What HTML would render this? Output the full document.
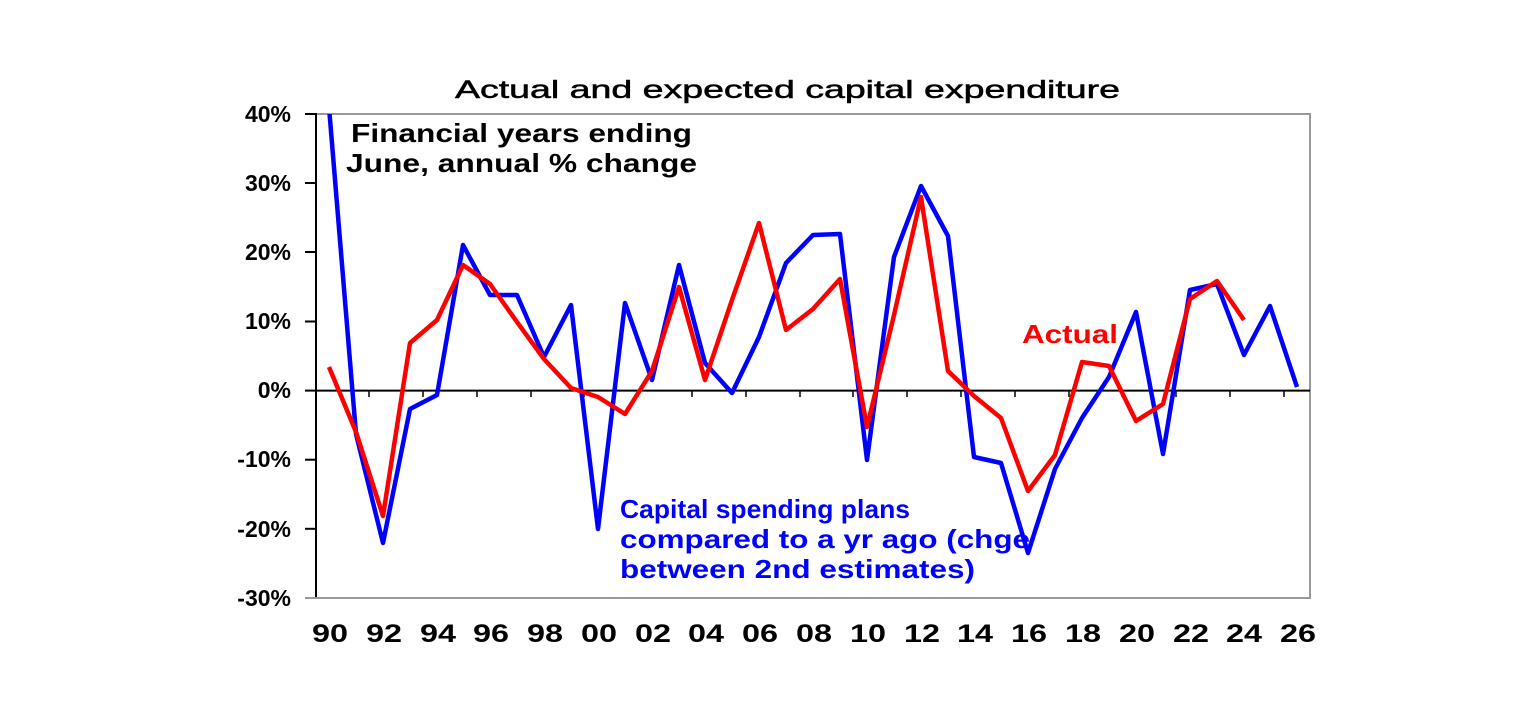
<!DOCTYPE html>
<html><head><meta charset="utf-8"><style>body{margin:0;background:#fff}svg{display:block}</style></head>
<body>
<svg width="1536" height="727" viewBox="0 0 1536 727" font-family="Liberation Sans, Arial, sans-serif">
<rect width="1536" height="727" fill="#fff"/>
<text x="455" y="98" font-size="25" textLength="665" lengthAdjust="spacingAndGlyphs" fill="#000" stroke="#000" stroke-width="0.5">Actual and expected capital expenditure</text>
<rect x="316" y="114" width="994" height="484" fill="none" stroke="#999" stroke-width="2"/>
<g stroke="#000" stroke-width="2">
<line x1="316" y1="113" x2="316" y2="599"/>
<line x1="316" y1="390.6" x2="1310" y2="390.6"/>
<line x1="305" y1="114" x2="316" y2="114"/><line x1="305" y1="183" x2="316" y2="183"/><line x1="305" y1="252" x2="316" y2="252"/><line x1="305" y1="321.5" x2="316" y2="321.5"/><line x1="305" y1="390.6" x2="316" y2="390.6"/><line x1="305" y1="459.7" x2="316" y2="459.7"/><line x1="305" y1="528.8" x2="316" y2="528.8"/><line x1="305" y1="598" x2="316" y2="598"/>
<line x1="305" y1="598" x2="1310" y2="598" stroke="#999"/>
</g>
<g stroke="#000" stroke-width="1.5">
<line x1="369" y1="390" x2="369" y2="397"/><line x1="423" y1="390" x2="423" y2="397"/><line x1="477" y1="390" x2="477" y2="397"/><line x1="531" y1="390" x2="531" y2="397"/><line x1="584" y1="390" x2="584" y2="397"/><line x1="638" y1="390" x2="638" y2="397"/><line x1="692" y1="390" x2="692" y2="397"/><line x1="746" y1="390" x2="746" y2="397"/><line x1="800" y1="390" x2="800" y2="397"/><line x1="853" y1="390" x2="853" y2="397"/><line x1="907" y1="390" x2="907" y2="397"/><line x1="961" y1="390" x2="961" y2="397"/><line x1="1015" y1="390" x2="1015" y2="397"/><line x1="1069" y1="390" x2="1069" y2="397"/><line x1="1122" y1="390" x2="1122" y2="397"/><line x1="1176" y1="390" x2="1176" y2="397"/><line x1="1230" y1="390" x2="1230" y2="397"/><line x1="1284" y1="390" x2="1284" y2="397"/>
</g>
<g font-size="23" font-weight="bold" text-anchor="end" fill="#000">
<text x="291" y="122">40%</text><text x="291" y="191">30%</text><text x="291" y="260">20%</text><text x="291" y="329">10%</text><text x="291" y="398">0%</text><text x="291" y="467">-10%</text><text x="291" y="537">-20%</text><text x="291" y="606">-30%</text>
</g>
<g font-size="25" font-weight="bold" text-anchor="middle" fill="#000">
<text x="330" y="642" textLength="36" lengthAdjust="spacingAndGlyphs">90</text><text x="384" y="642" textLength="36" lengthAdjust="spacingAndGlyphs">92</text><text x="438" y="642" textLength="36" lengthAdjust="spacingAndGlyphs">94</text><text x="491" y="642" textLength="36" lengthAdjust="spacingAndGlyphs">96</text><text x="545" y="642" textLength="36" lengthAdjust="spacingAndGlyphs">98</text><text x="599" y="642" textLength="36" lengthAdjust="spacingAndGlyphs">00</text><text x="653" y="642" textLength="36" lengthAdjust="spacingAndGlyphs">02</text><text x="706" y="642" textLength="36" lengthAdjust="spacingAndGlyphs">04</text><text x="760" y="642" textLength="36" lengthAdjust="spacingAndGlyphs">06</text><text x="814" y="642" textLength="36" lengthAdjust="spacingAndGlyphs">08</text><text x="868" y="642" textLength="36" lengthAdjust="spacingAndGlyphs">10</text><text x="922" y="642" textLength="36" lengthAdjust="spacingAndGlyphs">12</text><text x="975" y="642" textLength="36" lengthAdjust="spacingAndGlyphs">14</text><text x="1029" y="642" textLength="36" lengthAdjust="spacingAndGlyphs">16</text><text x="1083" y="642" textLength="36" lengthAdjust="spacingAndGlyphs">18</text><text x="1137" y="642" textLength="36" lengthAdjust="spacingAndGlyphs">20</text><text x="1191" y="642" textLength="36" lengthAdjust="spacingAndGlyphs">22</text><text x="1244" y="642" textLength="36" lengthAdjust="spacingAndGlyphs">24</text><text x="1298" y="642" textLength="36" lengthAdjust="spacingAndGlyphs">26</text>
</g>
<defs><clipPath id="c"><rect x="316" y="114" width="994" height="484"/></clipPath></defs>
<g clip-path="url(#c)" fill="none" stroke-width="4.5" stroke-linejoin="round">
<polyline stroke="#0000ff" points="329,107 356,434 383,543 410,409 437,395 463,245 490,295 517,295 544,357 571,305 598,529 625,303 652,380 679,265 705,363 732,393 759,337 786,263 813,235 840,234 867,460 894,257 921,186 948,236 974,457 1001,463 1028,553 1055,469 1082,418 1109,377 1136,312 1163,454 1190,290 1217,284 1244,355 1270,306 1297,387"/>
<polyline stroke="#ff0000" points="329,367 356,432 383,516 410,343 437,320 463,265 490,284 517,322 544,359 571,388 598,397 625,414 652,371 679,287 705,380 732,300 759,223 786,330 813,309 840,279 867,427 894,315 921,197 948,371 974,396 1001,418 1028,491 1055,455 1082,362 1109,366 1136,421 1163,404 1190,299 1217,281 1244,320"/>
</g>
<g font-size="26" font-weight="bold" lengthAdjust="spacingAndGlyphs">
<text x="351" y="142" fill="#000" textLength="341" lengthAdjust="spacingAndGlyphs">Financial years ending</text>
<text x="346" y="172" fill="#000" textLength="351" lengthAdjust="spacingAndGlyphs">June, annual % change</text>
<text x="1022" y="343" fill="#ff0000" textLength="96" lengthAdjust="spacingAndGlyphs">Actual</text>
<text x="620" y="518" fill="#0000ff" textLength="290" lengthAdjust="spacingAndGlyphs">Capital spending plans</text>
<text x="620" y="548" fill="#0000ff" textLength="410" lengthAdjust="spacingAndGlyphs">compared to a yr ago (chge</text>
<text x="620" y="578" fill="#0000ff" textLength="355" lengthAdjust="spacingAndGlyphs">between 2nd estimates)</text>
</g>
</svg>
</body></html>
